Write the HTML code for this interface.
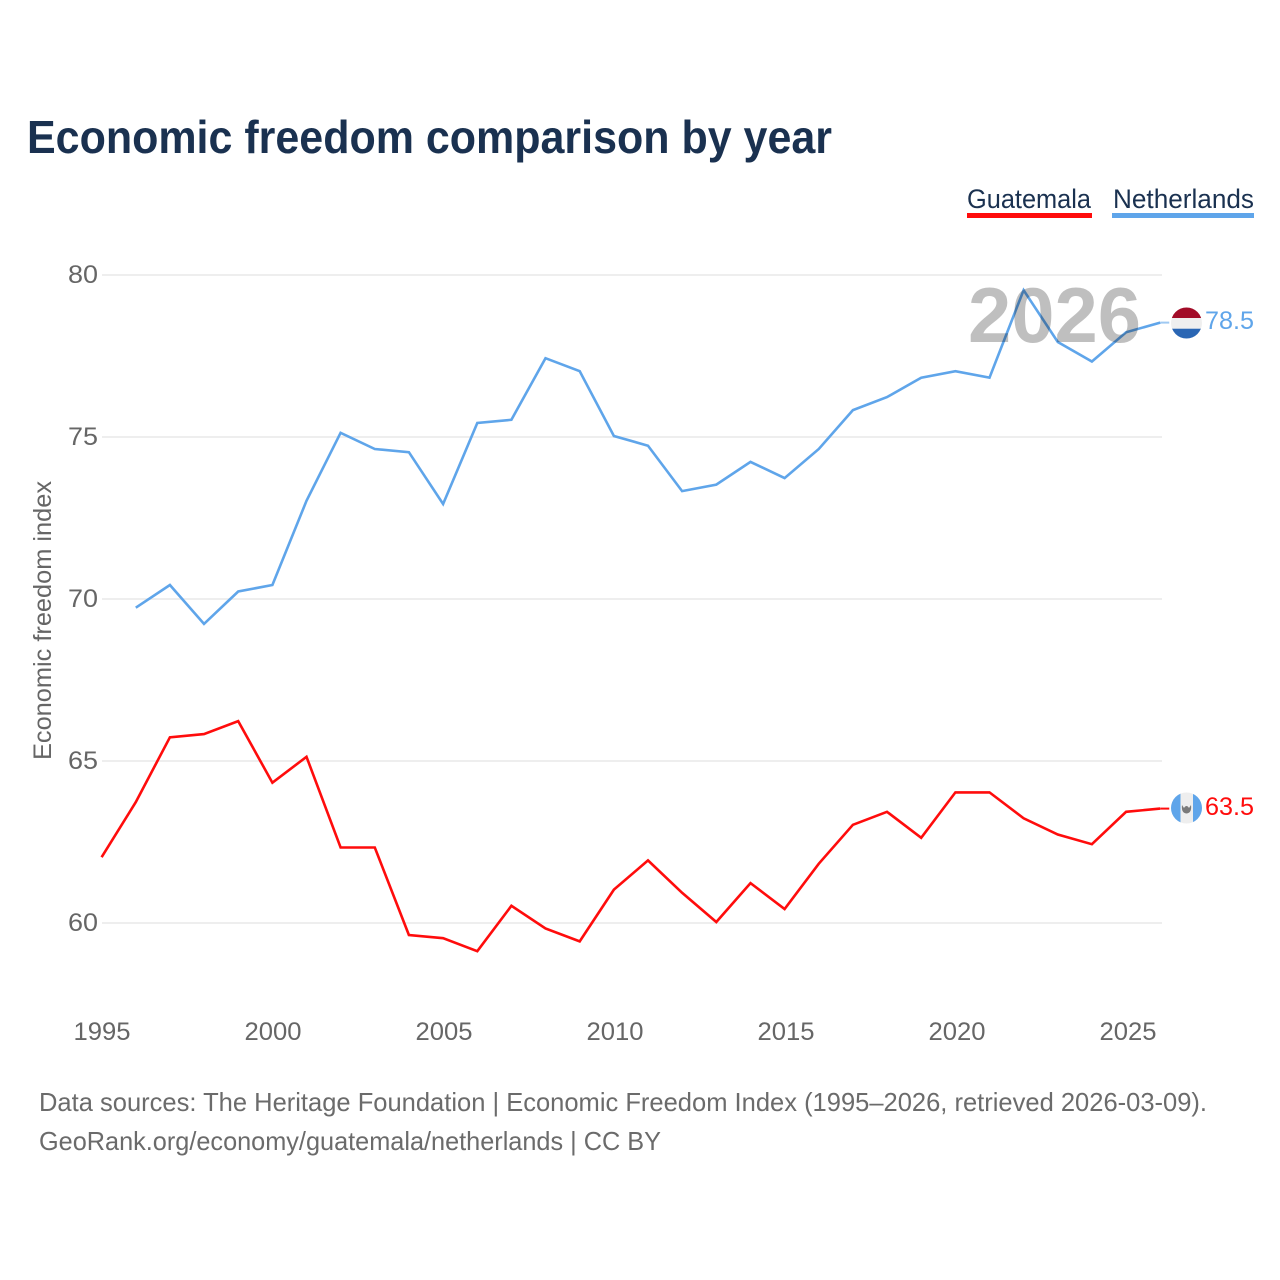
<!DOCTYPE html>
<html lang="en">
<head>
<meta charset="utf-8">
<title>Economic freedom comparison by year</title>
<style>
html,body{margin:0;padding:0;background:#fff;width:1280px;height:1280px;overflow:hidden}
svg{display:block}
text{font-family:"Liberation Sans",sans-serif}
</style>
</head>
<body>
<svg id="chart" xmlns="http://www.w3.org/2000/svg" width="1280" height="1280" viewBox="0 0 1280 1280">
  <rect width="1280" height="1280" fill="#fff"/>
  <text x="27" y="153" font-size="46" font-weight="700" fill="#1a3150" textLength="805" lengthAdjust="spacingAndGlyphs">Economic freedom comparison by year</text>

  <g>
    <g>
      <text x="967" y="208" font-size="27" fill="#1a3150" textLength="124" lengthAdjust="spacingAndGlyphs">Guatemala</text>
      <rect x="967" y="213" width="125" height="5" fill="#ff0c0c"/>
    </g>
    <g>
      <text x="1113" y="208" font-size="27" fill="#1a3150" textLength="141" lengthAdjust="spacingAndGlyphs">Netherlands</text>
      <rect x="1112" y="213" width="142" height="5" fill="#5fa5ea"/>
    </g>
  </g>

  <g id="grid"></g>
  <g id="y-ticks"></g>
  <g id="x-ticks"></g>
  <text transform="translate(51,760) rotate(-90)" font-size="25" fill="#666" textLength="279" lengthAdjust="spacingAndGlyphs">Economic freedom index</text>

  <g id="series"></g>

  <text x="968" y="342" font-size="78" font-weight="700" fill="#000" fill-opacity="0.25" textLength="173" lengthAdjust="spacingAndGlyphs">2026</text>

  <g>
    <clipPath id="clip-nl"><circle cx="1186.5" cy="323" r="15.5"/></clipPath>
    <g clip-path="url(#clip-nl)">
      <rect x="1170" y="307" width="33" height="11" fill="#a20c28"/>
      <rect x="1170" y="318" width="33" height="10.7" fill="#efefef"/>
      <rect x="1170" y="328.7" width="33" height="12" fill="#2a66b4"/>
    </g>
  </g>
  <g>
    <clipPath id="clip-gt"><circle cx="1186.5" cy="808" r="15.5"/></clipPath>
    <g clip-path="url(#clip-gt)">
      <rect x="1170" y="792" width="33" height="32" fill="#eeeeee"/>
      <rect x="1170" y="792" width="10.5" height="32" fill="#5fa5ea"/>
      <rect x="1193" y="792" width="10" height="32" fill="#5fa5ea"/>
      <path d="M1182 805 Q1181 813 1186.5 813.5 Q1192 813 1191 805 L1189 808 Q1186.5 804 1184 808 Z" fill="#7a7a7a"/>
    </g>
  </g>
  <text x="1205" y="329" font-size="25" fill="#5fa5ea" textLength="49" lengthAdjust="spacingAndGlyphs">78.5</text>
  <text x="1205" y="815" font-size="25" fill="#ff0c0c" textLength="49" lengthAdjust="spacingAndGlyphs">63.5</text>

  <g>
    <text x="39" y="1111" font-size="26" fill="#6b6b6b" textLength="1168" lengthAdjust="spacingAndGlyphs">Data sources: The Heritage Foundation | Economic Freedom Index (1995–2026, retrieved 2026-03-09).</text>
    <text x="39" y="1150" font-size="26" fill="#6b6b6b" textLength="622" lengthAdjust="spacingAndGlyphs">GeoRank.org/economy/guatemala/netherlands | CC BY</text>
  </g>
</svg>
<script>
const guatemalaYears = [1995,1996,1997,1998,1999,2000,2001,2002,2003,2004,2005,2006,2007,2008,2009,2010,2011,2012,2013,2014,2015,2016,2017,2018,2019,2020,2021,2022,2023,2024,2025,2026];
const guatemalaValues = [62,63.7,65.7,65.8,66.2,64.3,65.1,62.3,62.3,59.6,59.5,59.1,60.5,59.8,59.4,61,61.9,60.9,60,61.2,60.4,61.8,63,63.4,62.6,64,64,63.2,62.7,62.4,63.4,63.5];
const netherlandsYears = [1996,1997,1998,1999,2000,2001,2002,2003,2004,2005,2006,2007,2008,2009,2010,2011,2012,2013,2014,2015,2016,2017,2018,2019,2020,2021,2022,2023,2024,2025,2026];
const netherlandsValues = [69.7,70.4,69.2,70.2,70.4,73,75.1,74.6,74.5,72.9,75.4,75.5,77.4,77,75,74.7,73.3,73.5,74.2,73.7,74.6,75.8,76.2,76.8,77,76.8,79.5,77.9,77.3,78.2,78.5];
const yTickValues = [60,65,70,75,80];
const xTickValues = [1995,2000,2005,2010,2015,2020,2025];

const NS = 'http://www.w3.org/2000/svg';
function xScale(year){ return 102 + (year - 1995) * 34.2; }
function yScale(value){ return 923 - (value - 60) * 32.4; }
function xData(year){ return 101.6 + (year - 1995) * 34.15; }
function yData(value){ return yScale(value) - 1; }
function make(tag, attrs, parent){
  const el = document.createElementNS(NS, tag);
  for (const k in attrs) el.setAttribute(k, attrs[k]);
  parent.appendChild(el);
  return el;
}
const grid = document.getElementById('grid');
const yTicks = document.getElementById('y-ticks');
const xTicks = document.getElementById('x-ticks');
const series = document.getElementById('series');

yTickValues.forEach(function(v){
  const line = make('line', {x1:102, x2:1162, y1:yScale(v), y2:yScale(v), stroke:'#eeeeee', 'stroke-width':2}, grid);
  
  
  const label = make('text', {x:98, y:yScale(v)+8, 'text-anchor':'end', 'font-size':25, fill:'#666', textLength:30, lengthAdjust:'spacingAndGlyphs'}, yTicks);
  
  
  label.textContent = v;
});
xTickValues.forEach(function(y){
  const label = make('text', {x:xScale(y), y:1040, 'text-anchor':'middle', 'font-size':25, fill:'#666', textLength:57, lengthAdjust:'spacingAndGlyphs'}, xTicks);
  
  
  label.textContent = y;
});
function drawSeries(years, values, color, name, connectorOpacity){
  const pts = years.map(function(y, i){ return xData(y).toFixed(1) + ',' + yData(values[i]).toFixed(1); }).join(' ');
  const line = make('polyline', {points:pts, fill:'none', stroke:color, 'stroke-width':2.6, 'stroke-linejoin':'miter'}, series);
  
  
  const lastY = yData(values[values.length-1]);
  const lastX = xData(years[years.length-1]);
  const conn = make('line', {x1:lastX, x2:lastX+9, y1:lastY, y2:lastY, stroke:color, 'stroke-width':2, 'stroke-opacity':connectorOpacity}, series);
  
  
}
drawSeries(guatemalaYears, guatemalaValues, '#ff0c0c', 'line-guatemala', 1);
drawSeries(netherlandsYears, netherlandsValues, '#5fa5ea', 'line-netherlands', 0.6);
</script>
</body>
</html>
